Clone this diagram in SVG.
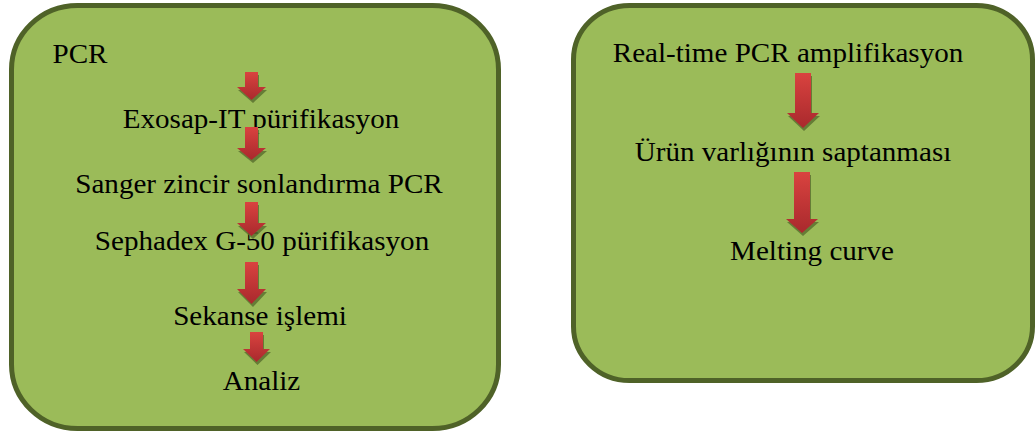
<svg xmlns="http://www.w3.org/2000/svg" width="1036" height="434" viewBox="0 0 1036 434">
  <defs>
    <linearGradient id="redGrad" x1="0" y1="0" x2="0" y2="1">
      <stop offset="0" stop-color="#D9433F"/>
      <stop offset="1" stop-color="#A9292D"/>
    </linearGradient>
    <style>
      .box { fill: #9BBB59; stroke: #4F6228; stroke-width: 5; }
      .lbl { font-family: "Liberation Serif", "Times New Roman", serif; font-size: 26.5px; fill: #000; text-anchor: middle; }
      .arrow { fill: url(#redGrad); }
      .shadow { fill: #5C7230; opacity: 0.85; }
    </style>
  </defs>
  <rect width="1036" height="434" fill="#FFFFFF"/>

  <g id="node-sanger">
    <rect class="box" x="11.5" y="5.5" width="487" height="423" rx="66" ry="64"/>
    <text class="lbl" transform="translate(80,63) scale(1.098,1)">PCR</text>
    <text class="lbl" transform="translate(261,128) scale(1.098,1)">Exosap-IT pürifikasyon</text>
    <text class="lbl" transform="translate(259,193) scale(1.098,1)">Sanger zincir sonlandırma PCR</text>
    <text class="lbl" transform="translate(262,250) scale(1.098,1)">Sephadex G-50 pürifikasyon</text>
    <text class="lbl" transform="translate(260,325) scale(1.098,1)">Sekanse işlemi</text>
    <text class="lbl" transform="translate(261.5,390) scale(1.098,1)">Analiz</text>
  </g>

  <g id="node-realtime">
    <rect class="box" x="573.5" y="5.5" width="459" height="375" rx="56" ry="54"/>
    <text class="lbl" transform="translate(788,62) scale(1.098,1)">Real-time PCR amplifikasyon</text>
    <text class="lbl" transform="translate(793,161) scale(1.098,1)">Ürün varlığının saptanması</text>
    <text class="lbl" transform="translate(812,260) scale(1.098,1)">Melting curve</text>
  </g>

  <g id="connectors">
    <!-- left column -->
    <polygon class="shadow" points="246,75 259,75 259,90 267,90 253,103 238,90 246,90"/>
    <polygon class="arrow" points="245,72 258,72 258,87 266,87 251.5,100 237,87 245,87"/>

    <polygon class="shadow" points="246,130 259,130 259,151 267,151 253,163 238,151 246,151"/>
    <polygon class="arrow" points="245,127 258,127 258,148 266,148 251.5,160 237,148 245,148"/>

    <polygon class="shadow" points="246,205 259,205 259,226 267,226 253,239 238,226 246,226"/>
    <polygon class="arrow" points="245,202 258,202 258,223 266,223 251.5,236 237,223 245,223"/>

    <polygon class="shadow" points="246,265 259,265 259,292 267,292 253,307 238,292 246,292"/>
    <polygon class="arrow" points="245,262 258,262 258,289 266,289 251.5,304 237,289 245,289"/>

    <polygon class="shadow" points="251,335 264,335 264,352 271,352 257.5,365 244,352 251,352"/>
    <polygon class="arrow" points="250,332 263,332 263,349 270,349 256.5,362 243,349 250,349"/>

    <!-- right column -->
    <polygon class="shadow" points="796,76 812,76 812,116 820,116 804,131 788,116 796,116"/>
    <polygon class="arrow" points="795,73 811,73 811,113 819,113 803,128 787,113 795,113"/>

    <polygon class="shadow" points="795,175 811,175 811,222 819,222 803,236 787,222 795,222"/>
    <polygon class="arrow" points="794,172 810,172 810,219 818,219 802,233 786,219 794,219"/>
  </g>
</svg>
